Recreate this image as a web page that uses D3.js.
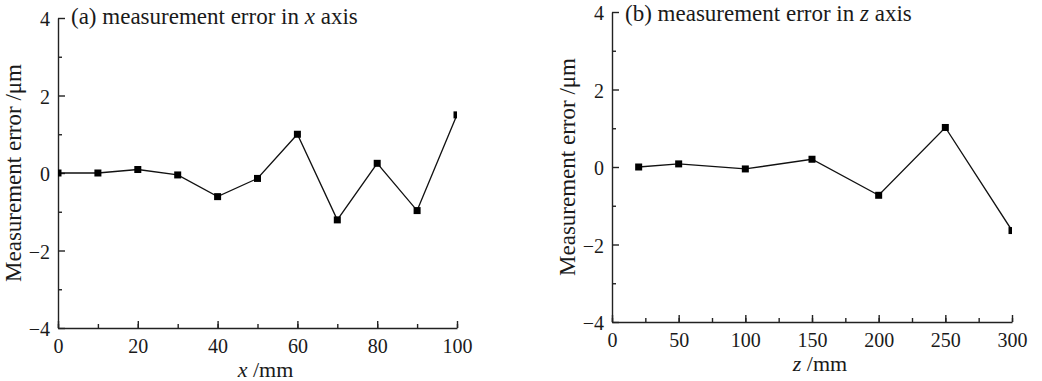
<!DOCTYPE html>
<html>
<head>
<meta charset="utf-8">
<script src="https://cdn.jsdelivr.net/npm/d3@7"></script>
<style>
  body { margin: 0; background: #fff; }
  svg { display: block; }
  text { font-family: "Liberation Serif", "DejaVu Serif", serif; fill: #1a1a1a; }
</style>
</head>
<body>
<svg id="chart" width="1042" height="381"></svg>
<script>
// panel (a): error along x
const xPositions = [0, 10, 20, 30, 40, 50, 60, 70, 80, 90, 100];
const xErrors = [0, 0, 0.09, -0.05, -0.61, -0.14, 1.0, -1.21, 0.25, -0.97, 1.5];
const xTicksA = [0, 20, 40, 60, 80, 100];

// panel (b): error along z
const zPositions = [20, 50, 100, 150, 200, 250, 300];
const zErrors = [0, 0.08, -0.05, 0.2, -0.73, 1.02, -1.64];
const xTicksB = [0, 50, 100, 150, 200, 250, 300];

const yTicks = [-4, -2, 0, 2, 4];

const svg = d3.select("#chart");

function drawPanel(cfg) {
  const g = svg.append("g");
  const x = d3.scaleLinear().domain(cfg.xDomain).range([cfg.left, cfg.right]);
  const y = d3.scaleLinear().domain([-4, 4]).range([cfg.bottom, cfg.top]);

  const clipId = "clip-" + cfg.id;
  svg.append("clipPath").attr("id", clipId)
    .append("rect")
    .attr("x", cfg.left).attr("y", cfg.top)
    .attr("width", cfg.right - cfg.left).attr("height", cfg.bottom - cfg.top);

  // x axis, ticks point inward
  const xMinor = d3.range(cfg.xDomain[0], cfg.xDomain[1] + 0.001, cfg.minorStep);
  g.append("g")
    .attr("transform", `translate(0,${cfg.bottom})`)
    .call(d3.axisBottom(x).tickValues(xMinor).tickSize(-4).tickFormat(""))
    .call(a => a.select(".domain").remove());
  const xAx = g.append("g")
    .attr("transform", `translate(0,${cfg.bottom})`)
    .call(d3.axisBottom(x).tickValues(cfg.xTicks).tickSize(-7).tickSizeOuter(0));
  xAx.selectAll("text").attr("font-size", 20).attr("dy", "0.9em").attr("y", 7);

  // y axis, ticks point inward
  g.append("g")
    .attr("transform", `translate(${cfg.left},0)`)
    .call(d3.axisLeft(y).tickValues([-3, -1, 1, 3]).tickSize(-4).tickFormat(""))
    .call(a => a.select(".domain").remove());
  const yAx = g.append("g")
    .attr("transform", `translate(${cfg.left},0)`)
    .call(d3.axisLeft(y).tickValues(yTicks).tickSize(-7).tickSizeOuter(0)
      .tickFormat(d => d < 0 ? "\u2212" + Math.abs(d) : d));
  yAx.selectAll("text").attr("font-size", 20).attr("x", -8).attr("dy", "0.38em");

  g.selectAll(".domain, .tick line").attr("stroke", "#222").attr("stroke-width", 1.4);

  // series
  const pts = cfg.xs.map((v, i) => [v, cfg.ys[i]]);
  const plot = g.append("g").attr("clip-path", `url(#${clipId})`);
  plot.append("path")
    .datum(pts)
    .attr("fill", "none")
    .attr("stroke", "#111")
    .attr("stroke-width", 1.3)
    .attr("d", d3.line().x(d => x(d[0])).y(d => y(d[1])));
  plot.selectAll("rect.mk")
    .data(pts)
    .enter()
    .append("rect")
    .attr("class", "mk")
    .attr("x", d => x(d[0]) - 3.5)
    .attr("y", d => y(d[1]) - 3.5)
    .attr("width", 7).attr("height", 7)
    .attr("fill", "#000");

  // title inside the plot
  const t = g.append("text")
    .attr("x", cfg.left + 13).attr("y", cfg.top + cfg.titleDy)
    .attr("font-size", 23);
  t.append("tspan").text(cfg.titleA);
  t.append("tspan").attr("font-style", "italic").text(cfg.titleVar);
  t.append("tspan").text(" axis");

  // axis labels
  g.append("text")
    .attr("transform", `translate(${cfg.left - 37},${(cfg.top + cfg.bottom) / 2}) rotate(-90)`)
    .attr("text-anchor", "middle")
    .attr("font-size", 23)
    .text("Measurement error /\u03bcm");

  const xl = g.append("text")
    .attr("x", (cfg.left + cfg.right) / 2 + 8).attr("y", cfg.bottom + 49)
    .attr("text-anchor", "middle")
    .attr("font-size", 22);
  xl.append("tspan").attr("font-style", "italic").text(cfg.titleVar);
  xl.append("tspan").text(" /mm");
}

drawPanel({
  id: "a", left: 58, right: 457, top: 18, bottom: 328, titleDy: 6,
  xDomain: [0, 100], minorStep: 10, xTicks: xTicksA,
  xs: xPositions, ys: xErrors,
  titleA: "(a) measurement error in ", titleVar: "x"
});

drawPanel({
  id: "b", left: 612, right: 1012, top: 12, bottom: 322, titleDy: 9,
  xDomain: [0, 300], minorStep: 25, xTicks: xTicksB,
  xs: zPositions, ys: zErrors,
  titleA: "(b) measurement error in ", titleVar: "z"
});
</script>
</body>
</html>
